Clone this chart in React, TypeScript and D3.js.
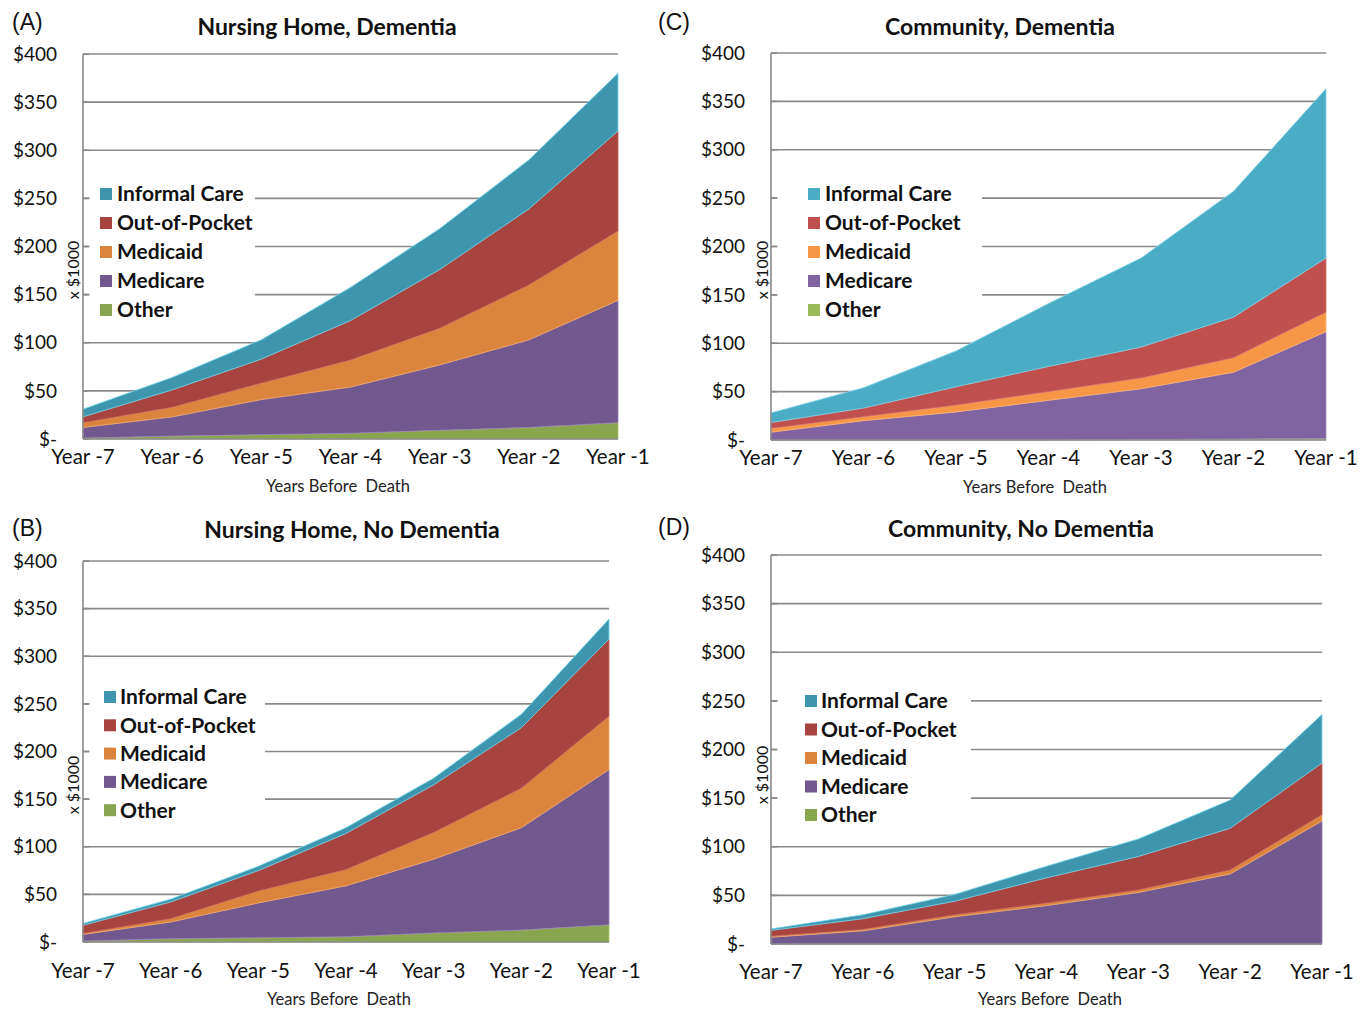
import React from "react";
import * as d3 from "d3";

const years = ["Year -7", "Year -6", "Year -5", "Year -4", "Year -3", "Year -2", "Year -1"];
const seriesNames = ["Informal Care", "Out-of-Pocket", "Medicaid", "Medicare", "Other"];
const yTickValues = [0, 50, 100, 150, 200, 250, 300, 350, 400];
const yTickLabels = ["$-", "$50", "$100", "$150", "$200", "$250", "$300", "$350", "$400"];

// (A) Nursing Home, Dementia
const nhDemOther = [1, 3, 4.5, 6, 9, 12, 17];
const nhDemMedicare = [11, 20, 36.5, 48, 68, 91, 127];
const nhDemMedicaid = [5, 10, 17, 28, 38, 57, 72];
const nhDemOOP = [6, 18, 25, 41, 61, 79, 104];
const nhDemInformal = [8, 13, 20, 34.5, 42.5, 51, 60];

// (B) Nursing Home, No Dementia
const nhNoDemOther = [1, 3.5, 4.5, 5.5, 9.5, 12.5, 18];
const nhNoDemMedicare = [7, 17.5, 36.5, 53.5, 77.5, 107.5, 163];
const nhNoDemMedicaid = [1, 3.5, 12.5, 17, 28, 41.5, 56];
const nhNoDemOOP = [8.5, 17.5, 21.5, 38, 50, 63.5, 81];
const nhNoDemInformal = [2, 3, 4.5, 6, 7, 14, 21];

// (C) Community, Dementia
const cmDemOther = [0, 0, 0, 0, 0.5, 1, 1.5];
const cmDemMedicare = [8, 20, 29, 41, 52.5, 69, 110.5];
const cmDemMedicaid = [4, 4, 7, 9, 11, 15, 20];
const cmDemOOP = [6, 9, 19, 26, 32, 42, 56];
const cmDemInformal = [10, 21, 37, 65, 92, 130, 175];

// (D) Community, No Dementia
const cmNoDemOther = [0, 0, 0, 0, 0, 0, 0];
const cmNoDemMedicare = [7, 13.5, 28, 39.5, 53, 72, 126.5];
const cmNoDemMedicaid = [1, 1.5, 2, 2.5, 2.5, 4, 6.5];
const cmNoDemOOP = [6, 11, 14, 26, 34.5, 43, 53];
const cmNoDemInformal = [1.5, 4, 7, 12, 18, 29, 50];

const darkColors = ["#3D96AE", "#A8443F", "#DB843D", "#71588F", "#89A54E"];
const darkEdges = ["#6FD3EC", "#C8625C", "#F5A863", "#9A82B8", "#A9C56E"];
const brightColors = ["#4BACC6", "#C0504D", "#F79646", "#8064A2", "#9BBB59"];
const brightEdges = ["#7ED2EA", "#D8726F", "#FFB272", "#A08AC0", "#B6D67A"];

function makeRows(other, medicare, medicaid, oop, informal) {
  return years.map((y, i) => ({
    year: y,
    Other: other[i],
    Medicare: medicare[i],
    Medicaid: medicaid[i],
    "Out-of-Pocket": oop[i],
    "Informal Care": informal[i],
  }));
}

const panels = [
  {
    letter: "(A)", title: "Nursing Home, Dementia",
    rows: makeRows(nhDemOther, nhDemMedicare, nhDemMedicaid, nhDemOOP, nhDemInformal),
    colors: darkColors, edges: darkEdges,
    x0: 83, x1: 618, yTop: 54, yBase: 439,
    letterX: 12, letterY: 30, titleX: 327, titleY: 35,
    legX: 100, legTextX: 117, legY: 194, legStep: 29, legBoxR: 255,
    unitX: 73, unitY: 270, xLabY: 464, xTitleX: 338, xTitleY: 492,
  },
  {
    letter: "(B)", title: "Nursing Home, No Dementia",
    rows: makeRows(nhNoDemOther, nhNoDemMedicare, nhNoDemMedicaid, nhNoDemOOP, nhNoDemInformal),
    colors: darkColors, edges: darkEdges,
    x0: 83, x1: 609, yTop: 561, yBase: 942,
    letterX: 12, letterY: 536, titleX: 352, titleY: 538,
    legX: 104, legTextX: 120, legY: 697, legStep: 28.3, legBoxR: 265,
    unitX: 73, unitY: 785, xLabY: 978, xTitleX: 339, xTitleY: 1005,
  },
  {
    letter: "(C)", title: "Community, Dementia",
    rows: makeRows(cmDemOther, cmDemMedicare, cmDemMedicaid, cmDemOOP, cmDemInformal),
    colors: brightColors, edges: brightEdges,
    x0: 771, x1: 1326, yTop: 53, yBase: 440,
    letterX: 658, letterY: 30, titleX: 1000, titleY: 35,
    legX: 808, legTextX: 825, legY: 194, legStep: 29, legBoxR: 982,
    unitX: 762, unitY: 270, xLabY: 465, xTitleX: 1035, xTitleY: 493,
  },
  {
    letter: "(D)", title: "Community, No Dementia",
    rows: makeRows(cmNoDemOther, cmNoDemMedicare, cmNoDemMedicaid, cmNoDemOOP, cmNoDemInformal),
    colors: darkColors, edges: darkEdges,
    x0: 771, x1: 1322, yTop: 555, yBase: 944,
    letterX: 658, letterY: 535, titleX: 1021, titleY: 537,
    legX: 805, legTextX: 821, legY: 701, legStep: 28.5, legBoxR: 971,
    unitX: 762, unitY: 775, xLabY: 979, xTitleX: 1050, xTitleY: 1005,
  },
];

const stackKeys = ["Other", "Medicare", "Medicaid", "Out-of-Pocket", "Informal Care"];
const FONT = "Lato, 'Open Sans', sans-serif";

function Panel({ p }) {
  const x = d3.scalePoint().domain(years).range([p.x0, p.x1]).padding(0);
  const y = d3.scaleLinear().domain([0, 400]).range([p.yBase, p.yTop]);
  const stack = d3.stack().keys(stackKeys);
  const layers = stack(p.rows);
  const area = d3
    .area()
    .x((d) => x(d.data.year))
    .y0((d) => y(d[0]))
    .y1((d) => y(d[1]));
  const colorOf = (key) => p.colors[seriesNames.indexOf(key)];
  const edgeOf = (key) => p.edges[seriesNames.indexOf(key)];
  const legTop = p.legY - 16;
  const legBottom = p.legY + p.legStep * 4 + 15;
  return (
    <g>
      <text x={p.letterX} y={p.letterY} fontFamily="'Liberation Sans', Arial, sans-serif" fontSize={23} fill="#111">
        {p.letter}
      </text>
      <text x={p.titleX} y={p.titleY} textAnchor="middle" fontFamily={FONT} fontWeight="bold" fontSize={23} fill="#111">
        {p.title}
      </text>
      {yTickValues.map((v, i) => (
        <g key={v}>
          {v > 0 && (
            <line x1={p.x0} x2={p.x1} y1={y(v)} y2={y(v)} stroke="#8a8a8a" strokeWidth={1.6} />
          )}
          <line x1={p.x0} x2={p.x0 + 6} y1={y(v)} y2={y(v)} stroke="#8a8a8a" strokeWidth={1.6} />
          <text x={p.x0 - 26} y={y(v)} dy="0.35em" textAnchor="end" fontFamily={FONT} fontSize={19} fill="#111">
            {yTickLabels[i]}
          </text>
        </g>
      ))}
      {layers.map((layer) => (
        <path
          key={layer.key}
          d={area(layer)}
          fill={colorOf(layer.key)}
          stroke={edgeOf(layer.key)}
          strokeWidth={0.8}
        />
      ))}
      <line x1={p.x0} x2={p.x0} y1={p.yTop} y2={p.yBase} stroke="#8a8a8a" strokeWidth={1.6} />
      <line x1={p.x0} x2={p.x1} y1={p.yBase} y2={p.yBase} stroke="#8a8a8a" strokeWidth={1.6} />
      <rect x={p.x0 + 6.5} y={legTop} width={p.legBoxR - p.x0 - 6.5} height={legBottom - legTop} fill="#fff" />
      {seriesNames.map((s, i) => (
        <g key={s}>
          <rect x={p.legX} y={p.legY + i * p.legStep - 6} width={12} height={12} fill={p.colors[i]} />
          <text x={p.legTextX} y={p.legY + i * p.legStep} dy="0.35em" fontFamily={FONT} fontWeight="bold" fontSize={21} fill="#111">
            {s}
          </text>
        </g>
      ))}
      <text
        transform={`translate(${p.unitX},${p.unitY}) rotate(-90)`}
        textAnchor="middle"
        dy="0.35em"
        fontFamily={FONT}
        fontSize={16}
        fill="#111"
      >
        x $1000
      </text>
      {years.map((yr) => (
        <text key={yr} x={x(yr)} y={p.xLabY} textAnchor="middle" fontFamily={FONT} fontSize={20.5} fill="#111">
          {yr}
        </text>
      ))}
      <text x={p.xTitleX} y={p.xTitleY} textAnchor="middle" fontFamily={FONT} fontSize={16.5} fill="#222" style={{ whiteSpace: "pre" }}>
        {"Years Before  Death"}
      </text>
    </g>
  );
}

export default function App() {
  return (
    <svg width={1370} height={1009} style={{ position: "absolute", left: 0, top: 0, background: "#fff" }}>
      <rect width={1370} height={1009} fill="#fff" />
      {panels.map((p) => (
        <Panel key={p.letter} p={p} />
      ))}
    </svg>
  );
}
